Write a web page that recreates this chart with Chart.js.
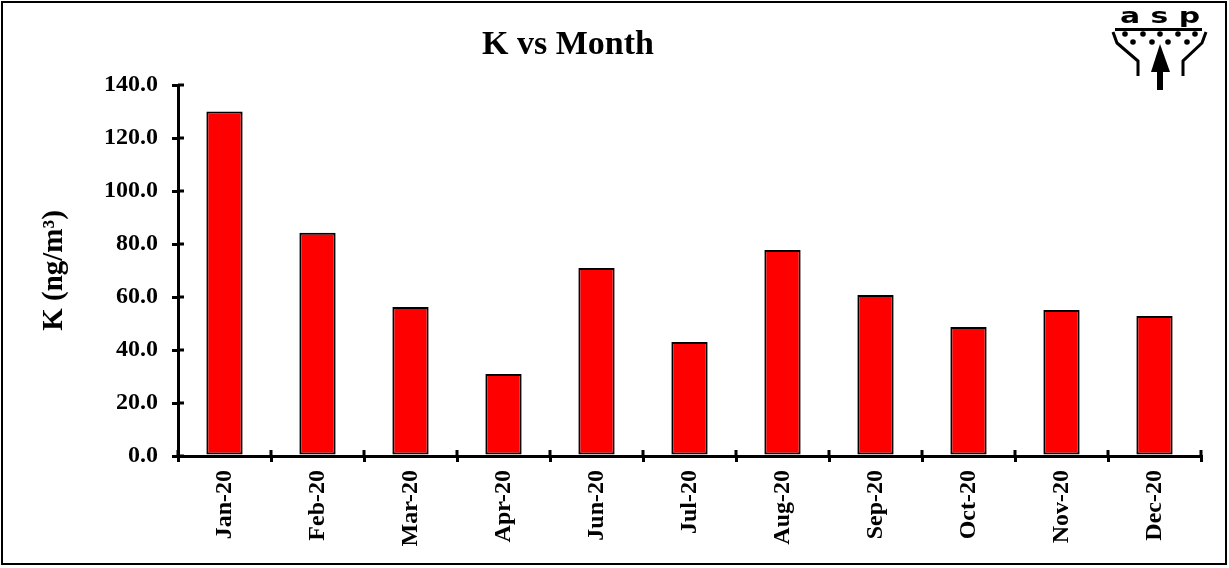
<!DOCTYPE html>
<html>
<head>
<meta charset="utf-8">
<script src="https://cdn.jsdelivr.net/npm/chart.js@4/dist/chart.umd.min.js"></script>
<style>
  html,body{margin:0;padding:0;background:#fff;}
  #wrap{width:1229px;height:568px;position:relative;}
</style>
</head>
<body>
<div id="wrap"><canvas id="c"></canvas></div>
<script>
const months = ['Jan-20','Feb-20','Mar-20','Apr-20','Jun-20','Jul-20','Aug-20','Sep-20','Oct-20','Nov-20','Dec-20'];
const kValues = [130.0, 84.2, 56.2, 30.9, 70.9, 43.0, 77.7, 60.8, 48.7, 55.1, 52.8];
const yTicks = [0, 20, 40, 60, 80, 100, 120, 140];
const chartTitle = 'K vs Month';

const serif = '"Liberation Serif", "Times New Roman", serif';

// frame, title, inner tick halves and the little asp logo
const decor = {
  id: 'decor',
  afterDraw(chart){
    const c = chart.ctx, x = chart.scales.x, y = chart.scales.y;
    c.save();
    c.strokeStyle = '#000'; c.fillStyle = '#000';
    c.lineWidth = 3;
    c.beginPath();
    yTicks.forEach(v => { const py = y.getPixelForValue(v); c.moveTo(y.right, py); c.lineTo(y.right + 6, py); });
    for (let i = 0; i <= months.length; i++) {
      const px = x.left + (x.right - x.left) * i / months.length;
      c.moveTo(px, x.top); c.lineTo(px, x.top - 6);
    }
    c.stroke();

    c.lineWidth = 2;
    c.strokeRect(2, 2, 1224, 562);

    c.font = 'bold 34px ' + serif;
    c.textAlign = 'center'; c.textBaseline = 'middle';
    c.fillText(chartTitle, 568, 45);

    // logo
    c.font = 'bold 26px "DejaVu Sans", sans-serif';
    c.textBaseline = 'alphabetic';
    c.save(); c.translate(1160, 23); c.scale(1.15, 0.85);
    c.fillText('a s p', 0, 0);
    c.restore();
    c.fillRect(1115, 28, 87, 3);
    [1125,1143,1160,1178,1195].forEach(px => { c.beginPath(); c.arc(px, 34, 2.8, 0, Math.PI*2); c.fill(); });
    [1133,1152,1168,1187].forEach(px => { c.beginPath(); c.arc(px, 42, 2.8, 0, Math.PI*2); c.fill(); });
    c.lineWidth = 3;
    c.beginPath();
    c.moveTo(1113, 32); c.lineTo(1117, 43); c.lineTo(1138, 61); c.lineTo(1138, 76);
    c.moveTo(1206, 32); c.lineTo(1202, 43); c.lineTo(1183, 61); c.lineTo(1183, 76);
    c.stroke();
    c.beginPath(); c.moveTo(1160, 44); c.lineTo(1151, 72); c.lineTo(1170, 72); c.closePath(); c.fill();
    c.fillRect(1157, 70, 6, 20);
    c.restore();
  }
};

new Chart(document.getElementById('c'), {
  type: 'bar',
  data: {
    labels: months,
    datasets: [{
      label: 'K',
      data: kValues,
      backgroundColor: '#ff0000',
      borderColor: '#000',
      borderWidth: 2,
      borderSkipped: false,
      barPercentage: 0.39,
      categoryPercentage: 1
    }]
  },
  options: {
    responsive: true,
    maintainAspectRatio: false,
    animation: false,
    layout: { padding: { left: 33, right: 28, top: 85, bottom: 0 } },
    plugins: {
      legend: { display: false },
      tooltip: { enabled: false },
      title: { display: false }
    },
    scales: {
      x: {
        afterFit: s => { s.height = 112; },
        grid: { offset: true, drawOnChartArea: false, color: '#000', tickLength: 6, lineWidth: 3 },
        border: { color: '#000', width: 3 },
        ticks: {
          color: '#000', font: { family: serif, size: 24, weight: 'bold' },
          minRotation: 90, maxRotation: 90, padding: 8, autoSkip: false
        }
      },
      y: {
        min: 0, max: 140,
        afterFit: s => { s.width = 145; },
        afterBuildTicks: s => { s.ticks = yTicks.map(v => ({ value: v })); },
        grid: { drawOnChartArea: false, color: '#000', tickLength: 6, lineWidth: 3 },
        border: { color: '#000', width: 3 },
        ticks: {
          color: '#000', font: { family: serif, size: 24, weight: 'bold' }, padding: 14,
          callback: v => Number(v).toFixed(1)
        },
        title: {
          display: true, text: 'K (ng/m³)', color: '#000',
          font: { family: serif, size: 29, weight: 'bold' },
          padding: { top: 4, bottom: 4 }
        }
      }
    }
  },
  plugins: [decor]
});
</script>
</body>
</html>
